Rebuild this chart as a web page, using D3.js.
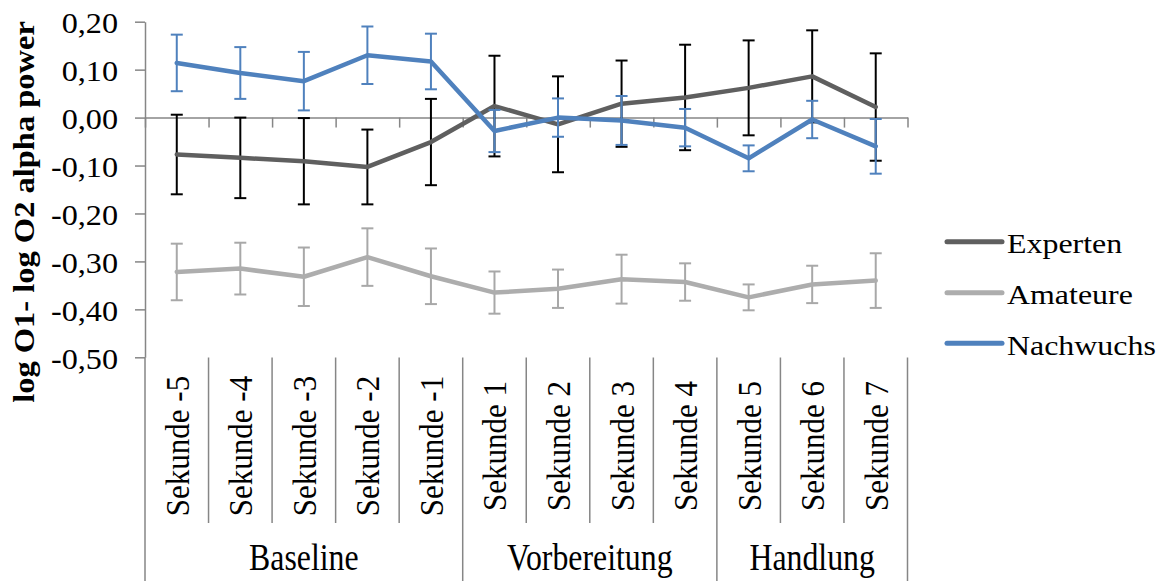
<!DOCTYPE html>
<html>
<head>
<meta charset="utf-8">
<script src="https://cdn.jsdelivr.net/npm/d3@7"></script>
<style>
  html, body { margin: 0; padding: 0; background: #fff; }
  svg { display: block; }
  text { font-family: "Liberation Serif", "Times New Roman", serif; fill: #000; }
</style>
</head>
<body>
<svg id="chart" width="1164" height="581"></svg>
<script>
// Categories (seconds) and their phase groups
const categories = ["Sekunde -5", "Sekunde -4", "Sekunde -3", "Sekunde -2", "Sekunde -1",
                    "Sekunde 1", "Sekunde 2", "Sekunde 3", "Sekunde 4",
                    "Sekunde 5", "Sekunde 6", "Sekunde 7"];
const groups = ["Baseline", "Vorbereitung", "Handlung"];
const groupSizes = [5, 4, 3];

// Series means and error bar half-widths
const seriesNames = ["Experten", "Amateure", "Nachwuchs"];
const experten    = [-0.077, -0.084, -0.091, -0.103, -0.051, 0.024, -0.014, 0.029, 0.042, 0.062, 0.086, 0.022];
const expertenErr = [0.083, 0.084, 0.090, 0.078, 0.090, 0.105, 0.100, 0.090, 0.110, 0.099, 0.096, 0.112];
const amateure    = [-0.322, -0.315, -0.332, -0.291, -0.331, -0.365, -0.357, -0.337, -0.343, -0.375, -0.348, -0.340];
const amateureErr = [0.059, 0.054, 0.061, 0.060, 0.058, 0.044, 0.040, 0.051, 0.039, 0.027, 0.039, 0.057];
const nachwuchs    = [0.114, 0.093, 0.076, 0.130, 0.117, -0.028, 0.000, -0.006, -0.021, -0.085, -0.004, -0.060];
const nachwuchsErr = [0.059, 0.054, 0.061, 0.060, 0.058, 0.044, 0.040, 0.051, 0.039, 0.027, 0.039, 0.057];

// Y axis ticks
const yTicks = [-0.5, -0.4, -0.3, -0.2, -0.1, 0, 0.1, 0.2];
const yTickLabels = ["-0,50", "-0,40", "-0,30", "-0,20", "-0,10", "0,00", "0,10", "0,20"];
const yTitle = "log O1- log O2 alpha power";

const series = [
  { name: seriesNames[0], values: experten,  err: expertenErr,  color: "#5f5f5f", errColor: "#000000" },
  { name: seriesNames[1], values: amateure,  err: amateureErr,  color: "#adadad", errColor: "#a8a8a8" },
  { name: seriesNames[2], values: nachwuchs, err: nachwuchsErr, color: "#4f81bd", errColor: "#4f81bd" }
];

const svg = d3.select("#chart");
const axisColor = "#868686";

const plotLeft = 145, plotRight = 907.5, plotTop = 21.7, plotBottom = 357.3;

const y = d3.scaleLinear().domain([-0.5, 0.2]).range([plotBottom, plotTop]);
const x = d3.scaleBand().domain(categories).range([plotLeft, plotRight]).padding(0);
const xi = d3.scaleLinear().domain([0, categories.length]).range([plotLeft, plotRight]);
const cx = c => x(c) + x.bandwidth() / 2;

// Y axis
const yAxis = svg.append("g")
  .attr("transform", `translate(${plotLeft},0)`)
  .call(d3.axisLeft(y).tickValues(yTicks).tickSize(10).tickSizeOuter(0)
        .tickFormat((d, i) => yTickLabels[i]));
yAxis.select(".domain").attr("stroke", axisColor).attr("stroke-width", 1.5);
yAxis.selectAll(".tick line").attr("stroke", axisColor).attr("stroke-width", 1.5);
yAxis.selectAll(".tick text")
  .attr("x", null).attr("dy", null)
  .attr("text-anchor", "end")
  .attr("transform", "translate(-27,11) scale(1.13,1)")
  .style("font-family", "'Liberation Serif', 'Times New Roman', serif")
  .style("font-size", "28.5px")
  .attr("fill", "#000");

// Horizontal axis through zero with tick marks at category boundaries
const xAxis = svg.append("g")
  .attr("transform", `translate(0,${y(0)})`)
  .call(d3.axisBottom(xi).tickValues(d3.range(0, categories.length + 1)).tickSize(10)
        .tickSizeOuter(0).tickFormat(""));
xAxis.select(".domain").attr("stroke", axisColor).attr("stroke-width", 1.5);
xAxis.selectAll(".tick line").attr("stroke", axisColor).attr("stroke-width", 1.5);

// Category label area: separators
const groupBounds = [0];
groupSizes.forEach((s, i) => groupBounds.push(groupBounds[i] + s));
const sepTop = 357.5, minorBottom = 523, majorBottom = 581;
svg.append("g").selectAll("line")
  .data(d3.range(0, categories.length + 1))
  .join("line")
  .attr("x1", d => xi(d)).attr("x2", d => xi(d))
  .attr("y1", sepTop)
  .attr("y2", d => groupBounds.includes(d) ? majorBottom : minorBottom)
  .attr("stroke", axisColor).attr("stroke-width", 1.5);

// Rotated category labels
svg.append("g").selectAll("text")
  .data(categories)
  .join("text")
  .attr("text-anchor", "middle")
  .attr("transform", d => `translate(${cx(d) + 12},446) scale(1.1,1) rotate(-90)`)
  .style("font-size", "31px")
  .text(d => d);

// Group labels
svg.append("g").selectAll("text")
  .data(groups)
  .join("text")
  .attr("text-anchor", "middle")
  .attr("transform", (d, i) => `translate(${(xi(groupBounds[i]) + xi(groupBounds[i + 1])) / 2},570) scale(0.86,1)`)
  .style("font-size", "37px")
  .text(d => d);

// Y axis title
svg.append("text")
  .attr("text-anchor", "middle")
  .attr("transform", "translate(34,212) scale(0.9,1) rotate(-90)")
  .style("font-size", "32.5px")
  .style("font-weight", "bold")
  .text(yTitle);

// Series: error bars then line
const line = d3.line().x((d, i) => cx(categories[i])).y(d => y(d));
const capHalf = 6;
series.forEach(s => {
  const g = svg.append("g");
  const eb = g.append("g").attr("stroke", s.errColor).attr("stroke-width", 2).attr("fill", "none");
  s.values.forEach((v, i) => {
    const xc = cx(categories[i]);
    const hi = y(v + s.err[i]), lo = y(v - s.err[i]);
    eb.append("line").attr("x1", xc).attr("x2", xc).attr("y1", hi).attr("y2", lo);
    eb.append("line").attr("x1", xc - capHalf).attr("x2", xc + capHalf).attr("y1", hi).attr("y2", hi);
    eb.append("line").attr("x1", xc - capHalf).attr("x2", xc + capHalf).attr("y1", lo).attr("y2", lo);
  });
  g.append("path")
    .datum(s.values)
    .attr("d", line)
    .attr("fill", "none")
    .attr("stroke", s.color)
    .attr("stroke-width", 4.5)
    .attr("stroke-linejoin", "round")
    .attr("stroke-linecap", "round");
});

// Legend
const legendY = [241.7, 292.7, 343.3];
const legend = svg.append("g");
series.forEach((s, i) => {
  legend.append("line")
    .attr("x1", 947).attr("x2", 1002)
    .attr("y1", legendY[i]).attr("y2", legendY[i])
    .attr("stroke", s.color).attr("stroke-width", 5).attr("stroke-linecap", "round");
  legend.append("text")
    .attr("transform", `translate(1007,${legendY[i] + 11.6}) scale(1.14,1)`)
    .style("font-size", "28px")
    .text(s.name);
});
</script>
</body>
</html>
